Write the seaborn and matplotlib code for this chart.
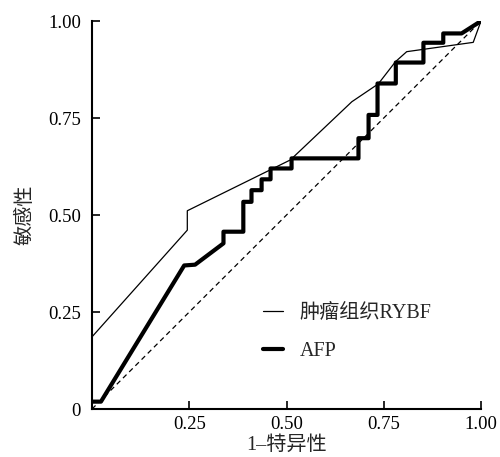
import pandas as pd
import seaborn as sns
import matplotlib.pyplot as plt

# ---------------------------------------
# 1. Data
# ---------------------------------------
rybf_fpr = [0.0, 0.245, 0.245, 0.51, 0.668, 0.736, 0.78, 0.809, 0.98, 1.0]
rybf_tpr = [0.186, 0.461, 0.511, 0.642, 0.792, 0.838, 0.895, 0.921, 0.945, 1.0]

afp_fpr = [0.0, 0.023, 0.237, 0.265, 0.338, 0.338, 0.389, 0.389, 0.41, 0.41,
           0.436, 0.436, 0.459, 0.459, 0.513, 0.513, 0.685, 0.685, 0.711, 0.711,
           0.734, 0.734, 0.781, 0.781, 0.852, 0.852, 0.903, 0.903, 0.95, 1.0]
afp_tpr = [0.019, 0.019, 0.37, 0.372, 0.427, 0.457, 0.457, 0.534, 0.534, 0.564,
           0.564, 0.592, 0.592, 0.62, 0.62, 0.646, 0.646, 0.698, 0.698, 0.758,
           0.758, 0.839, 0.839, 0.893, 0.893, 0.944, 0.944, 0.968, 0.968, 1.0]

ref_line = [0.0, 1.0]

tick_vals = [0, 0.25, 0.5, 0.75, 1.0]
y_tick_labels = ["0", "0.25", "0.50", "0.75", "1.00"]
x_tick_vals = [0.25, 0.5, 0.75, 1.0]
x_tick_labels = ["0.25", "0.50", "0.75", "1.00"]

rybf_df = pd.DataFrame({"fpr": rybf_fpr, "tpr": rybf_tpr})
afp_df = pd.DataFrame({"fpr": afp_fpr, "tpr": afp_tpr})
ref_df = pd.DataFrame({"fpr": ref_line, "tpr": ref_line})

# ---------------------------------------
# 2. Theme
# ---------------------------------------
sns.set_theme(style="ticks")
plt.rcParams["font.family"] = ["Liberation Serif", "Noto Sans CJK SC"]

fig = plt.figure(figsize=(5, 4.57), dpi=100)
ax = fig.add_axes([0.184, 0.105, 0.778, 0.849])

# ---------------------------------------
# 3. Curves
# ---------------------------------------
sns.lineplot(data=ref_df, x="fpr", y="tpr", ax=ax, color="black",
             linewidth=0.9, linestyle=(0, (4, 3)), sort=False, estimator=None)
sns.lineplot(data=rybf_df, x="fpr", y="tpr", ax=ax, color="black",
             linewidth=0.9, sort=False, estimator=None, label="肿瘤组织RYBF")
sns.lineplot(data=afp_df, x="fpr", y="tpr", ax=ax, color="black",
             linewidth=3.0, sort=False, estimator=None, label="AFP")

# ---------------------------------------
# 4. Axes styling
# ---------------------------------------
ax.set_xlim(0, 1)
ax.set_ylim(0, 1)
ax.set_xticks(x_tick_vals)
ax.set_xticklabels(x_tick_labels)
ax.set_yticks(tick_vals)
ax.set_yticklabels(y_tick_labels)
ax.tick_params(direction="in", length=6, width=1.2, labelsize=13.5, colors="black")
ax.tick_params(axis="y", pad=8)
ax.tick_params(axis="x", pad=5)
for side in ["top", "right"]:
    ax.spines[side].set_visible(False)
for side in ["left", "bottom"]:
    ax.spines[side].set_linewidth(1.5)
    ax.spines[side].set_color("black")

ax.set_xlabel("1–特异性", fontsize=14.5, labelpad=2)
ax.set_ylabel("敏感性", fontsize=14.5, labelpad=9)

ax.legend(loc="upper left", bbox_to_anchor=(0.44, 0.272), frameon=False,
          fontsize=14.5, handlelength=1.0, labelspacing=0.95, borderpad=0,
          borderaxespad=0, handletextpad=0.8)

fig.savefig("out.png", dpi=100)
